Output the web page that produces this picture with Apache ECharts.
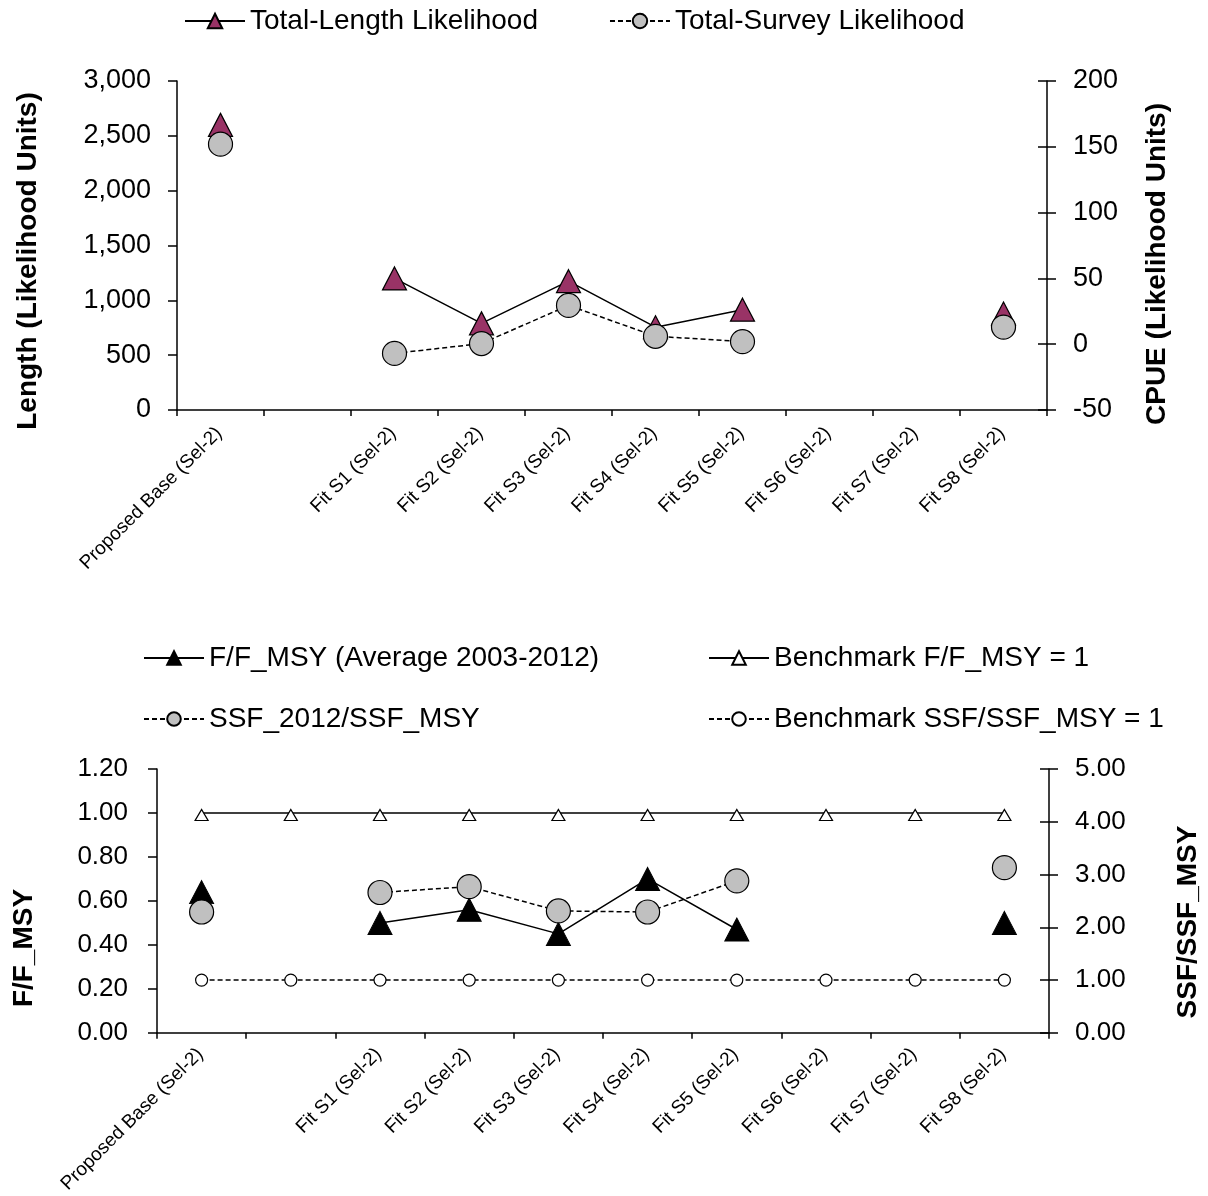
<!DOCTYPE html>
<html>
<head>
<meta charset="utf-8">
<script src="https://cdn.jsdelivr.net/npm/echarts@6/dist/echarts.min.js"></script>
<style>
html,body{margin:0;padding:0;background:#fff;}
#chart{width:1208px;height:1196px;}
</style>
</head>
<body>
<div id="chart"></div>
<script>
// ---- data ----
var categories = ['Proposed Base (Sel-2)', '', 'Fit S1 (Sel-2)', 'Fit S2 (Sel-2)', 'Fit S3 (Sel-2)', 'Fit S4 (Sel-2)', 'Fit S5 (Sel-2)', 'Fit S6 (Sel-2)', 'Fit S7 (Sel-2)', 'Fit S8 (Sel-2)'];
var lengthLikelihood = [2600, null, 1200, 790, 1175, 755, 915, null, null, 880];
var surveyLikelihood = [152, null, -7, 0.5, 29.5, 6, 2, null, null, 13];
var fRatio = [0.64, null, 0.50, 0.56, 0.45, 0.70, 0.47, null, null, 0.50];
var benchmarkF = [1, 1, 1, 1, 1, 1, 1, 1, 1, 1];
var ssfRatio = [2.29, null, 2.66, 2.77, 2.31, 2.29, 2.88, null, null, 3.13];
var benchmarkSSF = [1, 1, 1, 1, 1, 1, 1, 1, 1, 1];

var topLeftAxis = {min: 0, max: 3000, interval: 500};
var topRightAxis = {min: -50, max: 200, interval: 50};
var botLeftAxis = {min: 0, max: 1.2, interval: 0.2};
var botRightAxis = {min: 0, max: 5, interval: 1};

var FONT = '"Liberation Sans", Arial, sans-serif';
var chart = echarts.init(document.getElementById('chart'), null, {renderer: 'canvas'});

function catAxis(gi, margin) {
  return {
    gridIndex: gi, type: 'category', data: categories, boundaryGap: true,
    axisLine: {show: true, lineStyle: {color: '#000', width: 1.5}},
    axisTick: {show: true, length: 6, interval: 0, lineStyle: {color: '#000', width: 1.5}},
    axisLabel: {show: true, interval: 0, rotate: 45, fontSize: 19, color: '#000', fontFamily: FONT, margin: margin, padding: [0, 2, 0, 0]},
    splitLine: {show: false}
  };
}
function valAxis(gi, pos, rng, fmt, margin, fs, inside) {
  return {
    gridIndex: gi, type: 'value', position: pos, min: rng.min, max: rng.max, interval: rng.interval,
    axisLine: {show: !inside, onZero: false, lineStyle: {color: '#000', width: 1.5}},
    axisTick: {show: true, inside: !!inside, length: 9, lineStyle: {color: '#000', width: 1.5}},
    axisLabel: {show: !inside, fontSize: fs, color: '#000', fontFamily: FONT, margin: margin, formatter: fmt},
    splitLine: {show: false}
  };
}
var legendText = {fontSize: 28, color: '#000', fontFamily: FONT, lineHeight: 30};
function oneLegend(name, left, cy) {
  return {data: [name], left: left, top: cy - 15, padding: 0, itemWidth: 60, itemHeight: 17, textStyle: legendText};
}
function fmt2(v) { return v.toFixed(2); }

var option = {
  animation: false,
  backgroundColor: '#fff',
  textStyle: {fontFamily: FONT, color: '#000'},
  legend: [
    {data: ['Total-Length Likelihood', 'Total-Survey Likelihood'], left: 184, top: 6, padding: 0, itemGap: 71, itemWidth: 60, itemHeight: 18, textStyle: legendText},
    oneLegend('F/F_MSY (Average 2003-2012)', 143, 658),
    oneLegend('Benchmark F/F_MSY = 1', 708, 658),
    oneLegend('SSF_2012/SSF_MSY', 143, 719),
    oneLegend('Benchmark SSF/SSF_MSY = 1', 708, 719)
  ],
  grid: [
    {left: 177, top: 81, width: 870, height: 329},
    {left: 157, top: 769, width: 892, height: 266}
  ],
  xAxis: [catAxis(0, 19), catAxis(1, 17)],
  yAxis: [
    valAxis(0, 'left', topLeftAxis, null, 26, 27),
    valAxis(0, 'right', topRightAxis, null, 26, 27),
    valAxis(0, 'right', topRightAxis, null, 26, 27, true),
    valAxis(1, 'left', botLeftAxis, fmt2, 29, 26),
    valAxis(1, 'right', botRightAxis, fmt2, 26, 26),
    valAxis(1, 'right', botRightAxis, null, 26, 26, true)
  ],
  graphic: [
    {type: 'text', x: 28, y: 261, rotation: Math.PI / 2, style: {text: 'Length (Likelihood Units)', font: 'bold 28px ' + FONT, fill: '#000', textAlign: 'center', textVerticalAlign: 'middle'}},
    {type: 'text', x: 1157, y: 264, rotation: Math.PI / 2, style: {text: 'CPUE (Likelihood Units)', font: 'bold 28px ' + FONT, fill: '#000', textAlign: 'center', textVerticalAlign: 'middle'}},
    {type: 'text', x: 24, y: 948, rotation: Math.PI / 2, style: {text: 'F/F_MSY', font: 'bold 28px ' + FONT, fill: '#000', textAlign: 'center', textVerticalAlign: 'middle'}},
    {type: 'text', x: 1188, y: 922, rotation: Math.PI / 2, style: {text: 'SSF/SSF_MSY', font: 'bold 28px ' + FONT, fill: '#000', textAlign: 'center', textVerticalAlign: 'middle'}}
  ],
  series: [
    {name: 'Total-Length Likelihood', type: 'line', xAxisIndex: 0, yAxisIndex: 0, data: lengthLikelihood,
     symbol: 'triangle', symbolSize: [24, 23], showAllSymbol: true, connectNulls: false,
     lineStyle: {color: '#000', width: 1.5}, itemStyle: {color: '#993366', borderColor: '#000', borderWidth: 1.2}, z: 2},
    {name: 'Total-Survey Likelihood', type: 'line', xAxisIndex: 0, yAxisIndex: 1, data: surveyLikelihood,
     symbol: 'circle', symbolSize: 24, showAllSymbol: true, connectNulls: false,
     lineStyle: {color: '#000', width: 1.5, type: [5, 3]}, itemStyle: {color: '#C0C0C0', borderColor: '#000', borderWidth: 1.2}, z: 3},
    {name: 'F/F_MSY (Average 2003-2012)', type: 'line', xAxisIndex: 1, yAxisIndex: 3, data: fRatio,
     symbol: 'triangle', symbolSize: [24, 23], showAllSymbol: true, connectNulls: false,
     lineStyle: {color: '#000', width: 1.5}, itemStyle: {color: '#000', borderColor: '#000', borderWidth: 1}, z: 2},
    {name: 'Benchmark F/F_MSY = 1', type: 'line', xAxisIndex: 1, yAxisIndex: 3, data: benchmarkF,
     symbol: 'triangle', symbolSize: [13, 11], symbolOffset: [0, 2], showAllSymbol: true,
     lineStyle: {color: '#000', width: 1.5}, itemStyle: {color: '#fff', borderColor: '#000', borderWidth: 1.2}, z: 2},
    {name: 'SSF_2012/SSF_MSY', type: 'line', xAxisIndex: 1, yAxisIndex: 4, data: ssfRatio,
     symbol: 'circle', symbolSize: 24, showAllSymbol: true, connectNulls: false,
     lineStyle: {color: '#000', width: 1.5, type: [5, 3]}, itemStyle: {color: '#C0C0C0', borderColor: '#000', borderWidth: 1.2}, z: 3},
    {name: 'Benchmark SSF/SSF_MSY = 1', type: 'line', xAxisIndex: 1, yAxisIndex: 4, data: benchmarkSSF,
     symbol: 'circle', symbolSize: 12, showAllSymbol: true,
     lineStyle: {color: '#000', width: 1.5, type: [5, 3]}, itemStyle: {color: '#fff', borderColor: '#000', borderWidth: 1.2}, z: 3}
  ]
};
chart.setOption(option);
</script>
</body>
</html>
